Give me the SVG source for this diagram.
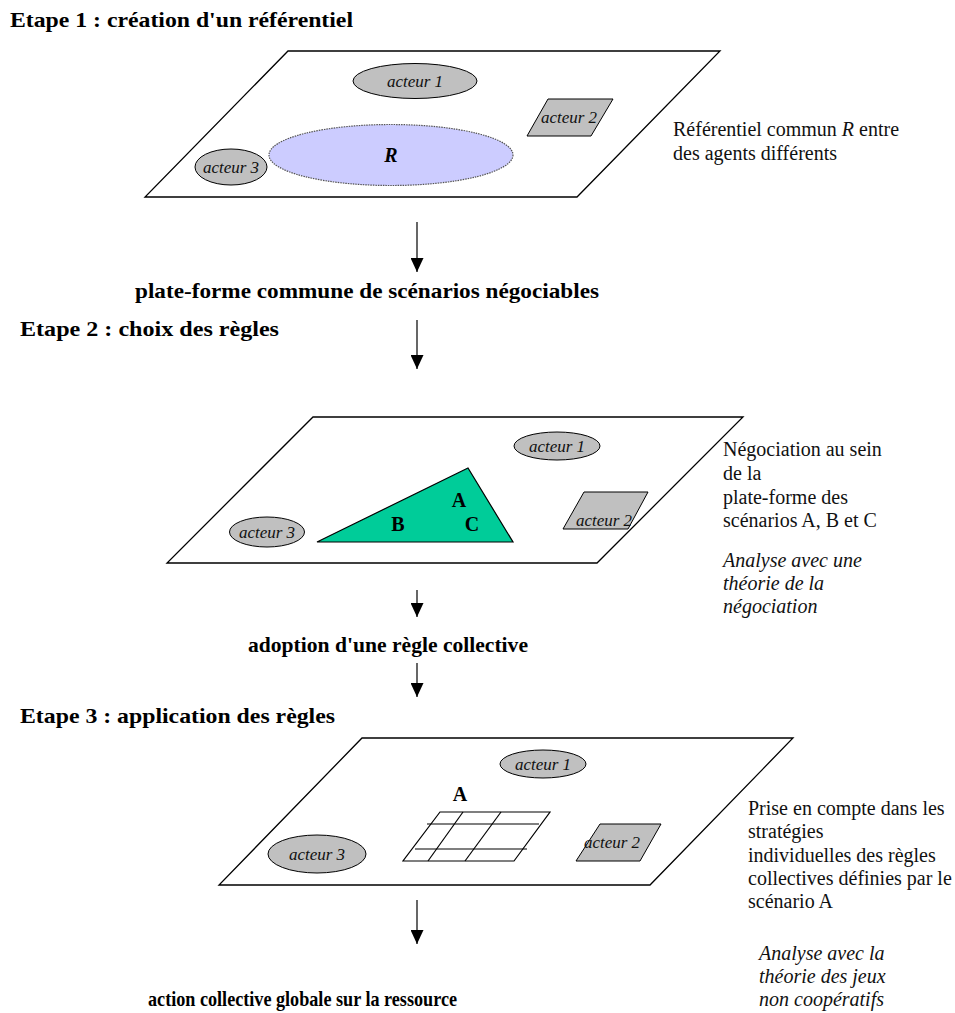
<svg xmlns="http://www.w3.org/2000/svg" width="955" height="1013" viewBox="0 0 955 1013">
<style>
.plane{fill:#fff;stroke:#000;stroke-width:1.3}
.act{fill:#c0c0c0;stroke:#000;stroke-width:1}
.albl{font-family:"Liberation Serif","Times New Roman",serif;font-style:italic;font-size:17px;fill:#111;text-anchor:middle}
.title{font-family:"Liberation Serif","Times New Roman",serif;font-weight:bold;font-size:22px;fill:#000}
.note{font-family:"Liberation Serif","Times New Roman",serif;font-size:20px;fill:#111}
.it{font-style:italic}
.big{font-family:"Liberation Serif","Times New Roman",serif;font-weight:bold;font-size:20px;fill:#000;text-anchor:middle}
.conn{stroke:#000;stroke-width:1.2;fill:none}
.grid{stroke:#000;stroke-width:1.2;fill:none}
</style>
<defs>
<marker id="ah" markerWidth="14" markerHeight="13" refX="14" refY="6.5" orient="auto" markerUnits="userSpaceOnUse" viewBox="0 0 14 13">
<path d="M0,0 L14,6.5 L0,13 Z" fill="#000"/>
</marker>
</defs>
<rect width="955" height="1013" fill="#fff"/>

<text class="title" x="10" y="27" textLength="343" lengthAdjust="spacingAndGlyphs">Etape 1 : création d'un référentiel</text>
<text class="title" x="20" y="336" textLength="259" lengthAdjust="spacingAndGlyphs">Etape 2 : choix des règles</text>
<text class="title" x="20" y="723" textLength="315" lengthAdjust="spacingAndGlyphs">Etape 3 : application des règles</text>

<g id="plane1">
<polygon class="plane" points="288,51 720,51 577,197 145,197"/>
</g>
<g id="p1-acteur1">
<ellipse class="act" cx="415" cy="81" rx="62" ry="17.5"/>
<text class="albl" x="415" y="87">acteur 1</text>
</g>
<g id="p1-R">
<ellipse cx="391" cy="155" rx="122" ry="30.5" fill="#ccccff" stroke="#555" stroke-width="1.2" stroke-dasharray="1.5,1"/>
<text x="391" y="162" font-family="Liberation Serif,serif" font-weight="bold" font-style="italic" font-size="20" text-anchor="middle">R</text>
</g>
<g id="p1-acteur3">
<ellipse class="act" cx="231" cy="167" rx="36" ry="18"/>
<text class="albl" x="231" y="173">acteur 3</text>
</g>
<g id="p1-acteur2">
<polygon class="act" points="548,99 613,99 591,136 527,136"/>
<text class="albl" x="569" y="123">acteur 2</text>
</g>
<g id="note1">
<text class="note" x="673" y="136">Référentiel commun <tspan class="it">R</tspan> entre</text>
<text class="note" x="673" y="160">des agents différents</text>
</g>

<g id="step-label1">
<text class="title" x="135" y="298" textLength="464" lengthAdjust="spacingAndGlyphs">plate-forme commune de scénarios négociables</text>
</g>

<g id="plane2">
<polygon class="plane" points="313,417 743,417 597,563 167,563"/>
</g>
<g id="p2-acteur1">
<ellipse class="act" cx="557" cy="446" rx="43" ry="14"/>
<text class="albl" x="557" y="452">acteur 1</text>
</g>
<g id="p2-triangle">
<polygon points="317,542 468,468 513,542" fill="#00cc99" stroke="#000" stroke-width="1.2"/>
<text class="big" x="459" y="507">A</text>
<text class="big" x="398" y="531">B</text>
<text class="big" x="472" y="531">C</text>
</g>
<g id="p2-acteur3">
<ellipse class="act" cx="267" cy="532" rx="37.5" ry="15"/>
<text class="albl" x="267" y="538">acteur 3</text>
</g>
<g id="p2-acteur2">
<polygon class="act" points="584,492 648,492 628,529 563,529"/>
<text class="albl" x="604" y="526">acteur 2</text>
</g>
<g id="note2">
<text class="note" x="723" y="456">Négociation au sein</text>
<text class="note" x="723" y="480">de la</text>
<text class="note" x="723" y="504">plate-forme des</text>
<text class="note" x="723" y="527">scénarios A, B et C</text>
<text class="note it" x="723" y="567">Analyse avec une</text>
<text class="note it" x="723" y="590">théorie de la</text>
<text class="note it" x="723" y="613">négociation</text>
</g>

<g id="step-label2">
<text class="title" x="248" y="652" font-size="21.5" textLength="280" lengthAdjust="spacingAndGlyphs">adoption d'une règle collective</text>
</g>

<g id="plane3">
<polygon class="plane" points="362,738 793,738 650,885 219,885"/>
</g>
<g id="p3-acteur1">
<ellipse class="act" cx="543" cy="764" rx="43" ry="14"/>
<text class="albl" x="543" y="770">acteur 1</text>
</g>
<g id="p3-grid">
<text class="big" x="460" y="801">A</text>
<polygon class="grid" points="440,812 550,812 514,861 403,861"/>
<line class="grid" x1="427" y1="824" x2="539" y2="824"/>
<line class="grid" x1="415" y1="849" x2="527" y2="849"/>
<line class="grid" x1="463" y1="812" x2="428" y2="861"/>
<line class="grid" x1="501" y1="812" x2="465" y2="861"/>
</g>
<g id="p3-acteur3">
<ellipse class="act" cx="317" cy="854" rx="49" ry="19"/>
<text class="albl" x="317" y="860">acteur 3</text>
</g>
<g id="p3-acteur2">
<polygon class="act" points="600,824 661,824 640,861 576,861"/>
<text class="albl" x="612" y="848">acteur 2</text>
</g>
<g id="note3">
<text class="note" x="748" y="815">Prise en compte dans les</text>
<text class="note" x="748" y="838">stratégies</text>
<text class="note" x="748" y="862">individuelles des règles</text>
<text class="note" x="748" y="885">collectives définies par le</text>
<text class="note" x="748" y="908">scénario A</text>
<text class="note it" x="759" y="960">Analyse avec la</text>
<text class="note it" x="759" y="983">théorie des jeux</text>
<text class="note it" x="759" y="1006">non coopératifs</text>
</g>

<g id="step-label3">
<text class="title" x="148" y="1006" font-size="18.5" textLength="309" lengthAdjust="spacingAndGlyphs">action collective globale sur la ressource</text>
</g>

<g id="connectors">
<line class="conn" x1="417" y1="222" x2="417" y2="272" marker-end="url(#ah)"/>
<line class="conn" x1="417" y1="320" x2="417" y2="369" marker-end="url(#ah)"/>
<line class="conn" x1="417" y1="590" x2="417" y2="617" marker-end="url(#ah)"/>
<line class="conn" x1="417" y1="663" x2="417" y2="697" marker-end="url(#ah)"/>
<line class="conn" x1="417" y1="900" x2="417" y2="944" marker-end="url(#ah)"/>
</g>
</svg>
